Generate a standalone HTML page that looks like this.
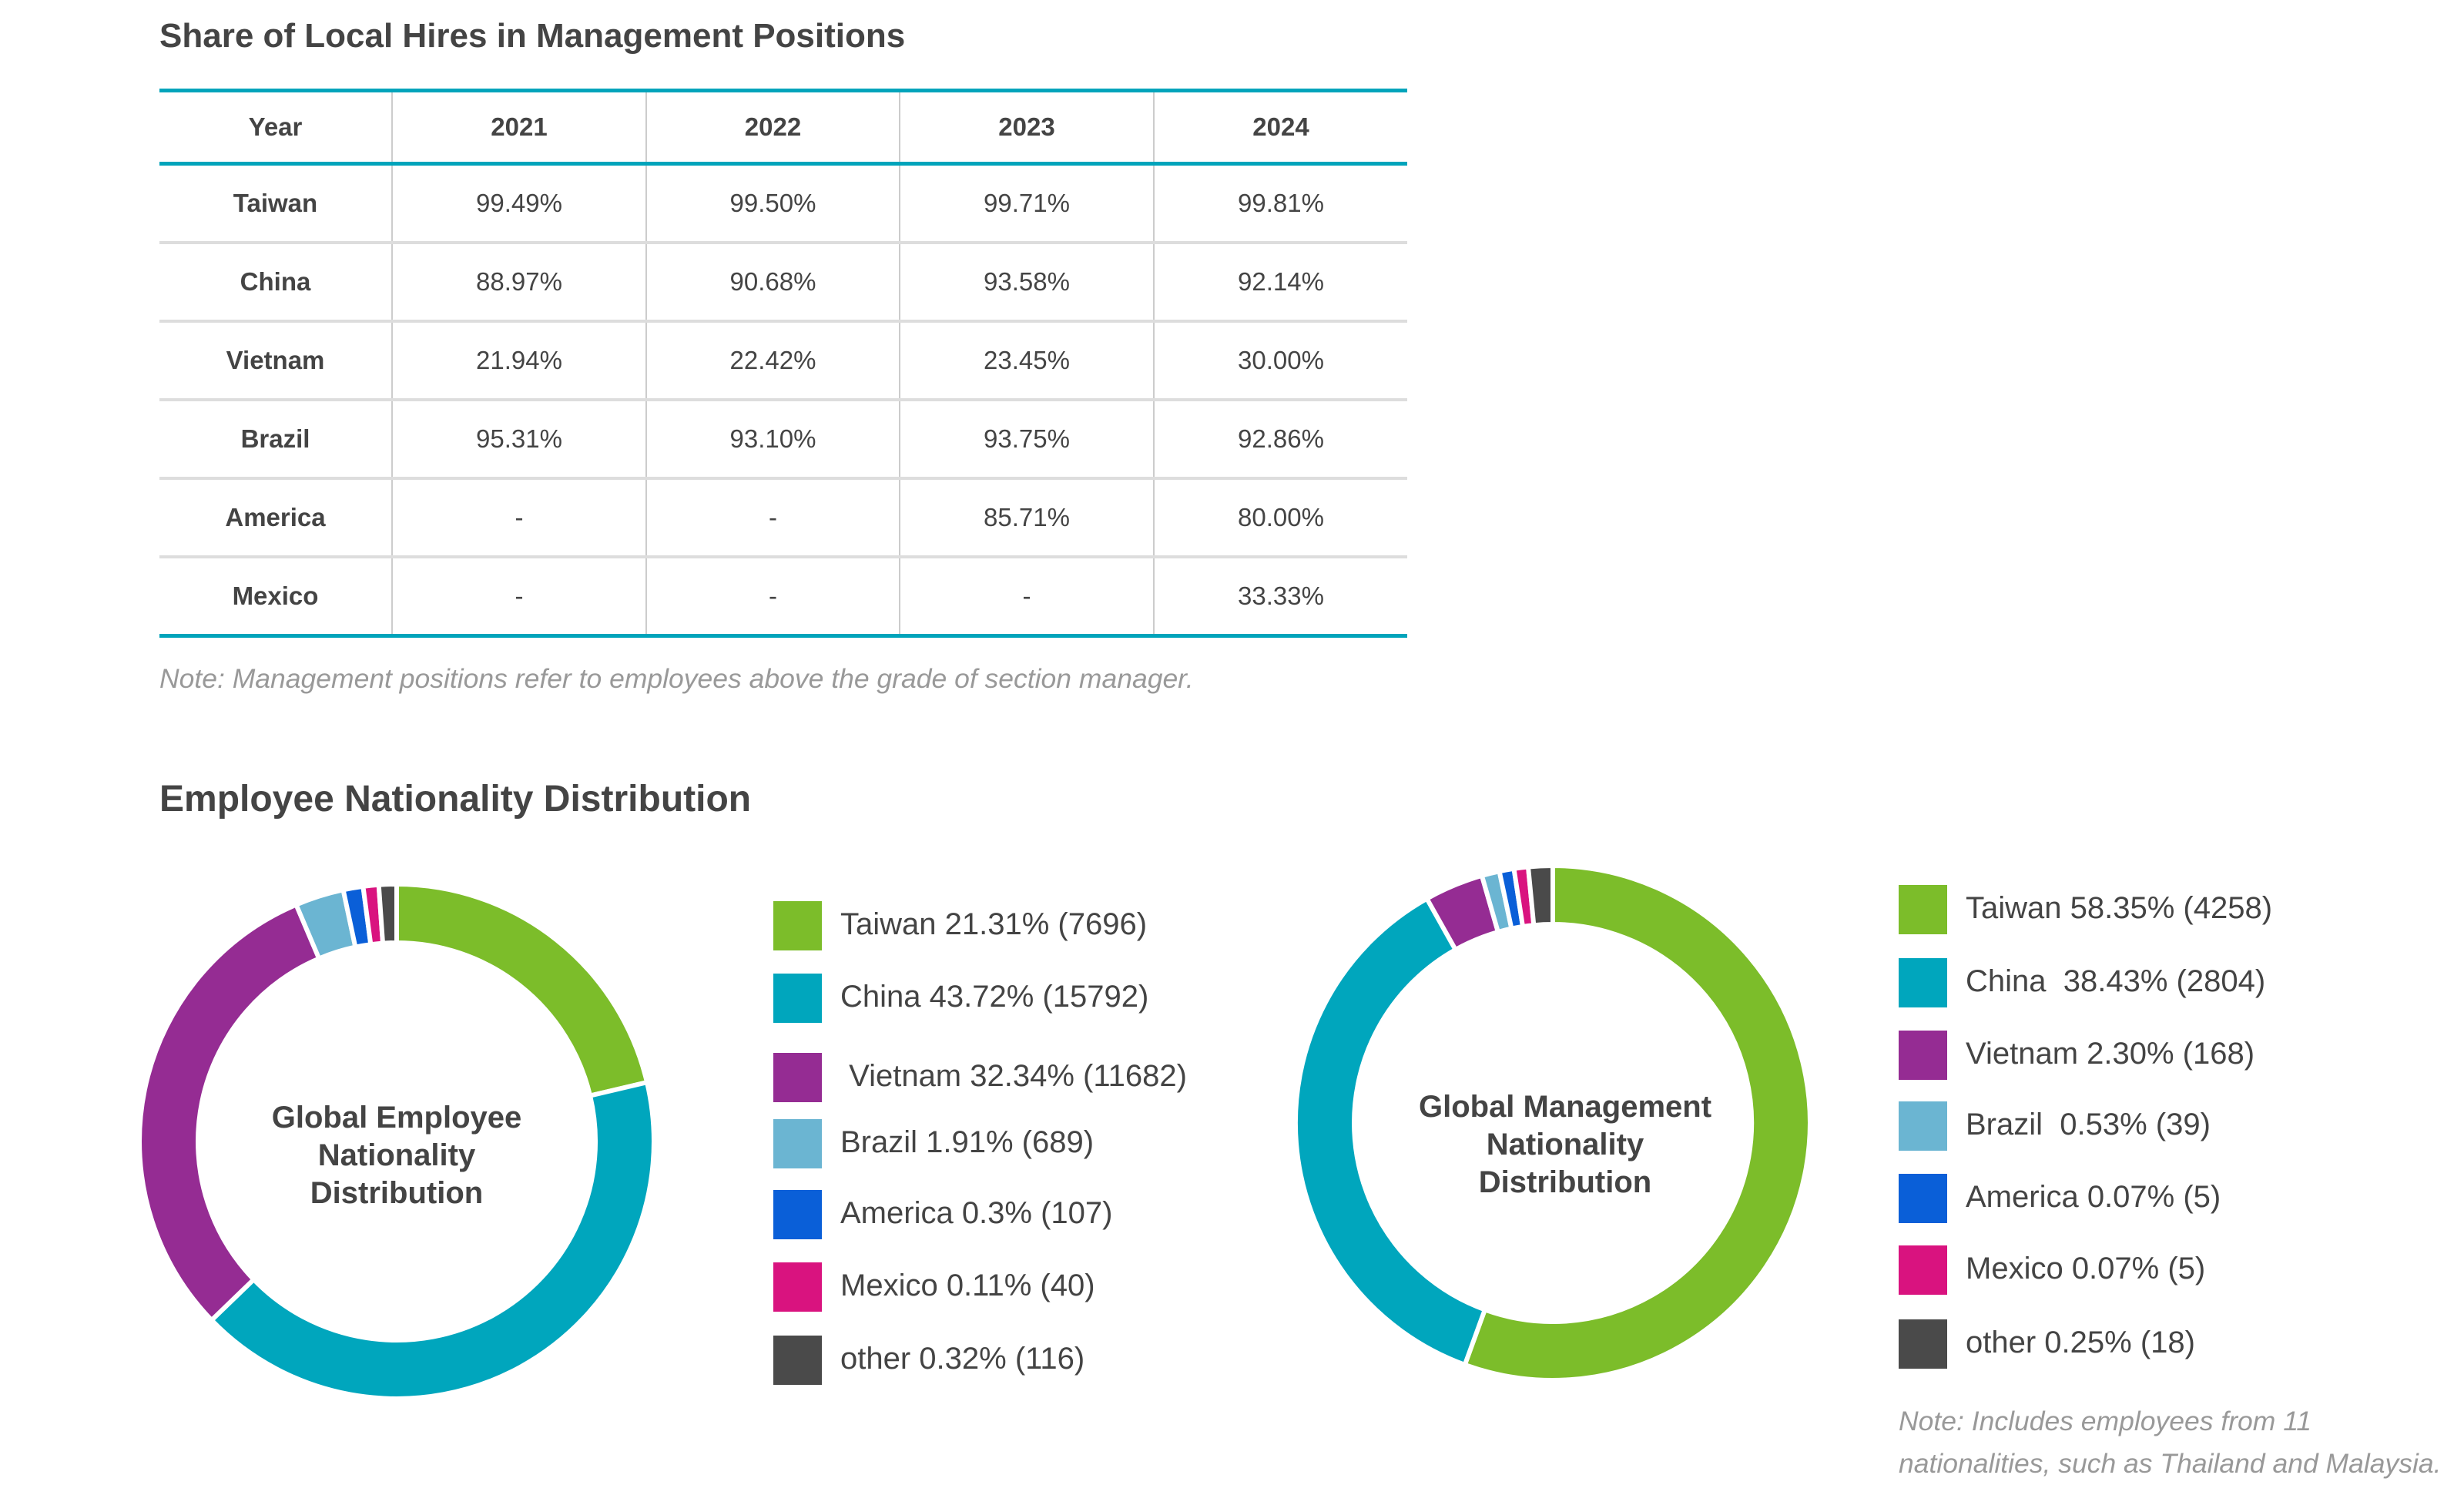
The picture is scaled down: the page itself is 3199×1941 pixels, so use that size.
<!DOCTYPE html>
<html><head><meta charset="utf-8"><style>
body{margin:0;width:3199px;height:1941px;background:#fff;font-family:"Liberation Sans",sans-serif;color:#444;position:relative;overflow:hidden}
.a{position:absolute;white-space:nowrap}
table{position:absolute;left:207px;top:115px;border-collapse:collapse;font-size:33px;table-layout:fixed;width:1620px}
td{text-align:center;padding:0;color:#444}
.h td{font-weight:bold;height:90px;border-top:5px solid #00a4bb;border-bottom:5px solid #00a4bb}
.r td{height:98px;border-bottom:4px solid #ddd}
.r:last-child td{border-bottom:5px solid #00a4bb}
td+td{border-left:2px solid #ccc}
.r td:first-child{font-weight:bold}
.lg{position:absolute;width:63px;height:64px}
.lt{position:absolute;font-size:40px;color:#444;white-space:nowrap}
.ct{position:absolute;font-weight:bold;font-size:40px;text-align:center;line-height:49px;color:#444}
.note{font-style:italic;color:#999;font-size:35.5px}
</style></head><body>
<div class="a" style="left:207px;top:22px;font-size:44px;font-weight:bold">Share of Local Hires in Management Positions</div>
<table>
<colgroup><col style="width:302px"><col style="width:330px"><col style="width:329px"><col style="width:330px"><col style="width:329px"></colgroup>
<tr class="h"><td>Year</td><td>2021</td><td>2022</td><td>2023</td><td>2024</td></tr>
<tr class="r"><td>Taiwan</td><td>99.49%</td><td>99.50%</td><td>99.71%</td><td>99.81%</td></tr>
<tr class="r"><td>China</td><td>88.97%</td><td>90.68%</td><td>93.58%</td><td>92.14%</td></tr>
<tr class="r"><td>Vietnam</td><td>21.94%</td><td>22.42%</td><td>23.45%</td><td>30.00%</td></tr>
<tr class="r"><td>Brazil</td><td>95.31%</td><td>93.10%</td><td>93.75%</td><td>92.86%</td></tr>
<tr class="r"><td>America</td><td>-</td><td>-</td><td>85.71%</td><td>80.00%</td></tr>
<tr class="r"><td>Mexico</td><td>-</td><td>-</td><td>-</td><td>33.33%</td></tr>
</table>
<div class="a note" style="left:207px;top:861px">Note: Management positions refer to employees above the grade of section manager.</div>
<div class="a" style="left:207px;top:1010px;font-size:48px;font-weight:bold">Employee Nationality Distribution</div>
<svg id="s" width="3199" height="1941" style="position:absolute;left:0;top:0"></svg>
<div class="ct" style="left:315px;top:1427px;width:400px">Global Employee<br>Nationality<br>Distribution</div>
<div class="ct" style="left:1832px;top:1413px;width:400px">Global Management<br>Nationality<br>Distribution</div>
<div id="L"></div>
<div class="a note" style="left:2465px;top:1818px;line-height:55px">Note: Includes employees from 11<br>nationalities, such as Thailand and Malaysia.</div>
<script>
var C=["#7cbd2a","#00a6bd","#952c93","#6bb5d2","#0a5fd8","#d9137f","#4a4a4a"];
function donut(cx,cy,R,r,a){var s="";for(var i=0;i<a.length-1;i++){var a0=a[i]*Math.PI/180,a1=a[i+1]*Math.PI/180,l=(a[i+1]-a[i])>180?1:0;
function p(rr,t){return (cx+rr*Math.sin(t)).toFixed(1)+","+(cy-rr*Math.cos(t)).toFixed(1)}
s+='<path d="M'+p(R,a0)+' A'+R+','+R+' 0 '+l+' 1 '+p(R,a1)+' L'+p(r,a1)+' A'+r+','+r+' 0 '+l+' 0 '+p(r,a0)+' Z" fill="'+C[i]+'" stroke="#fff" stroke-width="6"/>';}return s;}
document.getElementById("s").innerHTML=donut(515,1482,334,258,[0,76.7,226,337,348,352.5,356,360])+donut(2016,1458,334,258,[0,200,330.7,344,348,351.3,354.5,360]);
var L1=["Taiwan 21.31% (7696)","China 43.72% (15792)","&nbsp;Vietnam 32.34% (11682)","Brazil 1.91% (689)","America 0.3% (107)","Mexico 0.11% (40)","other 0.32% (116)"],Y1=[1202,1296,1399,1485,1577,1671,1766];
var L2=["Taiwan 58.35% (4258)","China&nbsp; 38.43% (2804)","Vietnam 2.30% (168)","Brazil&nbsp; 0.53% (39)","America 0.07% (5)","Mexico 0.07% (5)","other 0.25% (18)"],Y2=[1181,1276,1370,1462,1556,1649,1745];
var h="";for(var i=0;i<7;i++){h+='<div class="lg" style="left:1004px;top:'+(Y1[i]-32)+'px;background:'+C[i]+'"></div><div class="lt" style="left:1091px;top:'+(Y1[i]-24)+'px">'+L1[i]+'</div>';
h+='<div class="lg" style="left:2465px;top:'+(Y2[i]-32)+'px;background:'+C[i]+'"></div><div class="lt" style="left:2552px;top:'+(Y2[i]-24)+'px">'+L2[i]+'</div>';}
document.getElementById("L").innerHTML=h;
</script>
</body></html>
